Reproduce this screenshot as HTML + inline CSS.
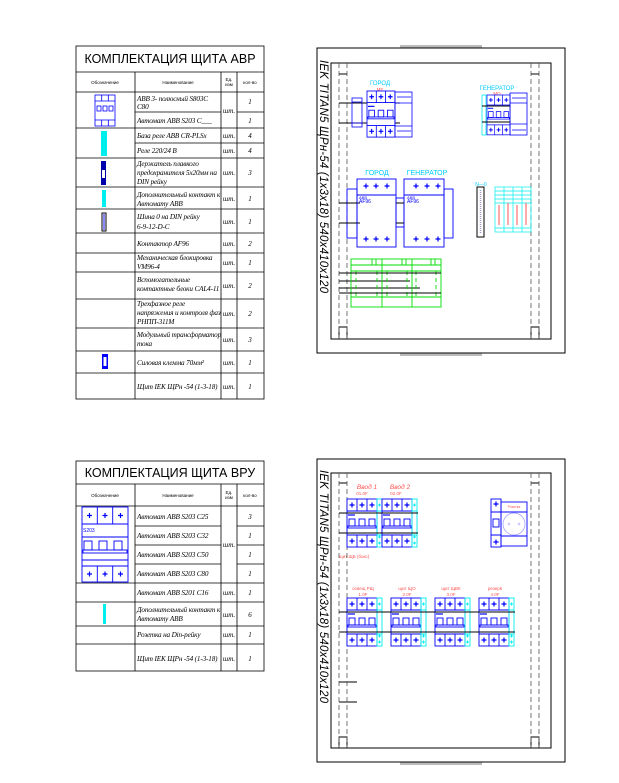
<!DOCTYPE html>
<html><head><meta charset="utf-8"><style>
html,body{margin:0;padding:0;background:#fff;}
svg{display:block;}
.ti{font-family:"Liberation Sans",sans-serif;font-size:12.5px;fill:#000;}
.hd{font-family:"Liberation Sans",sans-serif;font-size:4.5px;fill:#000;}
.it{font-family:"Liberation Serif",serif;font-style:italic;font-size:7.2px;fill:#000;letter-spacing:-0.15px;}
.u{font-family:"Liberation Serif",serif;font-style:italic;font-size:7px;fill:#000;}
.rd{font-family:"Liberation Sans",sans-serif;font-style:italic;font-size:6px;fill:#f55;}
.cy{font-family:"Liberation Sans",sans-serif;font-size:6px;fill:#0cf;}
.bl{font-family:"Liberation Sans",sans-serif;font-size:4px;fill:#00f;}
</style></head><body>
<svg width="619" height="783" viewBox="0 0 619 783" xmlns="http://www.w3.org/2000/svg">
<defs>
<g id="plus"><path d="M-2.5 0H2.5M0 -2.5V2.5" stroke="#00f" stroke-width="1.2"/></g>
<g id="brk" fill="none" stroke="#00f" stroke-width="0.9">
<rect x="0" y="0" width="30" height="48" fill="#fff"/>
<path d="M10 0V12M20 0V12M0 12H30M0 36H30M10 36V48M20 36V48"/>
<use href="#plus" x="5" y="6"/><use href="#plus" x="15" y="6"/><use href="#plus" x="25" y="6"/>
<use href="#plus" x="5" y="42"/><use href="#plus" x="15" y="42"/><use href="#plus" x="25" y="42"/>
<rect x="2" y="20" width="6" height="7"/><rect x="12" y="20" width="6" height="7"/><rect x="22" y="20" width="6" height="7"/>
<rect x="1" y="27" width="28" height="2"/>
<path d="M1 16H8" stroke-width="1.2"/>
</g>
<g id="aux" fill="none" stroke="#0ee" stroke-width="0.9">
<rect x="0" y="0" width="5" height="48"/>
<path d="M1 6H4M2.5 4.5V7.5M1 38H4M2.5 36.5V39.5M1 44H4M2.5 42.5V45.5M0 12H5M0 36H5"/>
</g>
</defs>

<!-- ===== TABLE 1 ===== -->
<g fill="none" stroke="#000" stroke-width="0.8">
<rect x="76" y="46" width="188" height="353"/>
<path d="M76 72H264M76 92H264"/>
<path d="M135 72V399M221 72V399M237 72V399"/>
<path d="M135 112H221M237 112H264"/>
<path d="M76 128H264M135 143H264M76 158H264M76 187H264M76 209H264M76 233H264M76 253H264M76 272H264M76 299H264M76 328H264M76 351H264M76 373H264"/>
</g>
<text class="ti" x="170" y="63" text-anchor="middle">КОМПЛЕКТАЦИЯ ЩИТА АВР</text>
<text class="hd" x="105" y="84" text-anchor="middle">Обозначение</text>
<text class="hd" x="178" y="84" text-anchor="middle">Наименование</text>
<text class="hd" x="229" y="81" text-anchor="middle">Ед.</text>
<text class="hd" x="229" y="86" text-anchor="middle">изм</text>
<text class="hd" x="250" y="84" text-anchor="middle">кол-во</text>
<g class="it">
<text x="137" y="101">ABB 3- полюсный S803C</text><text x="137" y="109">C80</text>
<text x="137" y="123">Автомат ABB S203 C___</text>
<text x="137" y="138">База реле ABB CR-PLSx</text>
<text x="137" y="153">Реле 220/24 В</text>
<text x="137" y="166">Держатель плавкого</text><text x="137" y="175">предохранителя 5х20мм на</text><text x="137" y="184">DIN рейку</text>
<text x="137" y="197">Дополнительный контакт к</text><text x="137" y="206">Автомату ABB</text>
<text x="137" y="219">Шина 0 на DIN рейку</text><text x="137" y="229">6-9-12-D-C</text>
<text x="137" y="246">Контактор AF96</text>
<text x="137" y="260">Механическая блокировка</text><text x="137" y="269">VM96-4</text>
<text x="137" y="282">Вспомогательные</text><text x="137" y="291">контактные блоки CAL4-11</text>
<text x="137" y="306">Трехфазное реле</text><text x="137" y="315">напряжения и контроля фаз</text><text x="137" y="324">РНПП-311М</text>
<text x="137" y="337">Модульный трансформатор</text><text x="137" y="346">тока</text>
<text x="137" y="365">Силовая клемма 70мм²</text>
<text x="137" y="389">Щит IEK ЩРн -54 (1-3-18)</text>
</g>
<g class="u" text-anchor="middle">
<text x="229" y="113">шт.</text><text x="229" y="138">шт.</text><text x="229" y="153">шт.</text><text x="229" y="175">шт.</text>
<text x="229" y="201">шт.</text><text x="229" y="224">шт.</text><text x="229" y="246">шт.</text><text x="229" y="265">шт.</text>
<text x="229" y="288">шт.</text><text x="229" y="316">шт.</text><text x="229" y="342">шт.</text><text x="229" y="365">шт.</text><text x="229" y="389">шт.</text>
<text x="250" y="104">1</text><text x="250" y="123">1</text><text x="250" y="138">4</text><text x="250" y="153">4</text><text x="250" y="175">3</text>
<text x="250" y="201">1</text><text x="250" y="224">1</text><text x="250" y="246">2</text><text x="250" y="265">1</text>
<text x="250" y="288">2</text><text x="250" y="316">2</text><text x="250" y="342">3</text><text x="250" y="365">1</text><text x="250" y="389">1</text>
</g>
<g fill="none" stroke="#00f" stroke-width="0.8">
<rect x="95" y="95" width="20" height="31"/><path d="M95 101H115M95 120H115M101.7 95V101M108.3 95V101M101.7 120V126M108.3 120V126"/>
<rect x="97" y="106" width="4" height="5"/><rect x="103" y="106" width="4" height="5"/><rect x="109" y="106" width="4" height="5"/>
</g>
<rect x="101" y="131" width="6" height="25" fill="#0ee"/>
<rect x="101" y="161" width="5" height="24" fill="#00a"/><rect x="102" y="170" width="3" height="8" fill="#fff"/>
<rect x="102" y="190" width="4" height="17" fill="#0ee"/>
<rect x="102" y="213" width="4" height="18" fill="#fff" stroke="#000" stroke-width="1"/><rect x="103" y="214" width="2" height="16" fill="#88f"/>
<rect x="102" y="354" width="6" height="15" fill="#00f"/><rect x="103.5" y="357" width="3" height="9" fill="#fff"/>

<!-- ===== TABLE 2 ===== -->
<g fill="none" stroke="#000" stroke-width="0.8">
<rect x="76" y="461" width="188" height="210"/>
<path d="M76 484H264M76 506H264"/>
<path d="M135 484V671M221 484V671M237 484V671"/>
<path d="M135 526H221M237 526H264M135 545H221M237 545H264M135 564H221M237 564H264"/>
<path d="M76 583H264M76 602H264M76 626H264M76 644H264"/>
</g>
<text class="ti" x="170" y="477" text-anchor="middle">КОМПЛЕКТАЦИЯ ЩИТА ВРУ</text>
<text class="hd" x="105" y="497" text-anchor="middle">Обозначение</text>
<text class="hd" x="178" y="497" text-anchor="middle">Наименование</text>
<text class="hd" x="229" y="494" text-anchor="middle">Ед.</text>
<text class="hd" x="229" y="499" text-anchor="middle">изм</text>
<text class="hd" x="250" y="497" text-anchor="middle">кол-во</text>
<g class="it">
<text x="137" y="519">Автомат ABB S203 C25</text>
<text x="137" y="538">Автомат ABB S203 C32</text>
<text x="137" y="557">Автомат ABB S203 C50</text>
<text x="137" y="576">Автомат ABB S203 C80</text>
<text x="137" y="595">Автомат ABB S201 C16</text>
<text x="137" y="612">Дополнительный контакт к</text><text x="137" y="621">Автомату ABB</text>
<text x="137" y="637">Розетка на Din-рейку</text>
<text x="137" y="661">Щит IEK ЩРн -54 (1-3-18)</text>
</g>
<g class="u" text-anchor="middle">
<text x="229" y="547">шт.</text><text x="229" y="595">шт.</text><text x="229" y="617">шт.</text><text x="229" y="637">шт.</text><text x="229" y="661">шт.</text>
<text x="250" y="519">3</text><text x="250" y="538">1</text><text x="250" y="557">1</text><text x="250" y="576">1</text>
<text x="250" y="595">1</text><text x="250" y="617">6</text><text x="250" y="637">1</text><text x="250" y="661">1</text>
</g>
<g fill="none" stroke="#00f" stroke-width="0.9">
<rect x="82" y="507" width="46" height="75"/>
<path d="M82 524H128M82 537H128M82 560H128M82 566H128M97.3 507V524M112.7 507V524M97.3 566V582M112.7 566V582"/>
<rect x="84" y="541" width="8" height="9"/><rect x="99" y="541" width="8" height="9"/><rect x="114" y="541" width="8" height="9"/>
<rect x="83" y="550" width="44" height="3"/>
<use href="#plus" x="89.5" y="515.5"/><use href="#plus" x="105" y="515.5"/><use href="#plus" x="120.5" y="515.5"/>
<use href="#plus" x="89.5" y="574"/><use href="#plus" x="105" y="574"/><use href="#plus" x="120.5" y="574"/>
</g>
<text class="bl" x="83" y="532" style="font-size:5px">S203</text>
<rect x="103" y="604" width="3" height="20" fill="#0ee"/>

<!-- ===== PANEL 1 ===== -->
<rect x="400" y="45" width="82" height="3" fill="#bbb"/>
<rect x="400" y="353" width="82" height="3" fill="#bbb"/>
<g fill="none" stroke="#000" stroke-width="1">
<rect x="317" y="48" width="248" height="305"/>
<rect x="331" y="63" width="220" height="276"/>
<path d="M339 74H347M531 74H539"/>
<rect x="339" y="327" width="8" height="12"/><rect x="531" y="327" width="8" height="12"/>
</g>
<g stroke="#555" stroke-width="0.8" stroke-dasharray="5,3">
<path d="M339 63V339M347 63V339M531 63V339M539 63V339"/>
</g>
<text transform="translate(320,60) rotate(90)" style="font-family:'Liberation Sans',sans-serif;font-style:italic;font-size:11.5px;" textLength="233">IEK TITAN5 ЩРн-54 (1x3x18) 540x410x120</text>
<g stroke="#000" stroke-width="0.9">
<path d="M339 103H400M339 123H400M339 203H360M339 223H360M339 273H360M339 293H360M339 281H410M339 288H420"/>
</g>
<text class="cy" x="380" y="85" text-anchor="middle">ГОРОД</text>
<text class="rd" x="380" y="91" text-anchor="middle" style="font-style:normal;font-size:4.5px">МЕ</text>
<g transform="translate(367,91) scale(0.93,0.96)"><use href="#brk"/></g>
<g fill="none" stroke="#00f" stroke-width="0.8">
<rect x="395" y="92" width="17" height="45"/><path d="M395 103H412M395 126H412M397 97H411M397 131H411"/>
<rect x="352" y="98" width="10" height="29"/><path d="M352 102H362M352 123H362"/>
</g>
<text class="cy" x="497" y="90" text-anchor="middle">ГЕНЕРАТОР</text>
<text class="rd" x="497" y="95" text-anchor="middle" style="font-style:normal;font-size:4.5px">МО</text>
<g transform="translate(487,95) scale(0.77,0.83)"><use href="#brk"/></g>
<g fill="none" stroke="#00f" stroke-width="0.8">
<rect x="510" y="93" width="17" height="42"/><path d="M510 103H527M510 124H527M512 98H526M512 130H526"/>
</g>
<rect x="482" y="95" width="4" height="40" fill="none" stroke="#0ee" stroke-width="0.8"/>
<g stroke="#000" stroke-width="0.9"><path d="M482 106H510M482 122H510"/></g>
<text class="cy" x="377" y="175" text-anchor="middle" style="font-size:7px">ГОРОД</text>
<text class="cy" x="427" y="175" text-anchor="middle" style="font-size:7px">ГЕНЕРАТОР</text>
<g fill="none" stroke="#00f" stroke-width="0.9">
<rect x="357" y="179" width="39" height="68"/><rect x="347" y="189" width="10" height="49"/>
<rect x="404" y="179" width="40" height="68"/><rect x="444" y="189" width="9" height="49"/>
<rect x="396" y="198" width="8" height="29"/>
<path d="M357 195H396M404 195H444"/>
</g>
<g>
<use href="#plus" x="366" y="186"/><use href="#plus" x="376" y="186"/><use href="#plus" x="387" y="186"/>
<use href="#plus" x="366" y="239"/><use href="#plus" x="376" y="239"/><use href="#plus" x="387" y="239"/>
<use href="#plus" x="416" y="186"/><use href="#plus" x="427" y="186"/><use href="#plus" x="438" y="186"/>
<use href="#plus" x="416" y="239"/><use href="#plus" x="427" y="239"/><use href="#plus" x="438" y="239"/>
</g>
<text class="bl" x="359" y="199">ABB</text><text class="bl" x="359" y="203" style="font-size:5px">AF96</text>
<text class="bl" x="407" y="199">ABB</text><text class="bl" x="407" y="203" style="font-size:5px">AF96</text>
<g stroke="#000" stroke-width="0.9"><path d="M339 203H357M339 223H357M396 203H404M396 223H404"/></g>
<text class="cy" x="481" y="186" text-anchor="middle" style="font-size:5px">N—0</text>
<rect x="477" y="187" width="7" height="50" fill="#fff" stroke="#000" stroke-width="1"/>
<path d="M480.5 190V234" stroke="#99c" stroke-width="1.5" stroke-dasharray="1,1"/>
<g fill="none" stroke="#0ee" stroke-width="0.7">
<rect x="495" y="187" width="36" height="45"/>
<path d="M495 191H531M495 195H531M495 199H531M495 203H531M504 187V232M513 187V232M522 187V232M495 228H531"/>
</g>
<g stroke="#f55" stroke-width="1"><path d="M499 205V225M508 203V225M517 205V225M526 203V225"/></g>
<g fill="none" stroke="#0d0" stroke-width="0.9">
<rect x="351" y="259" width="90" height="48"/>
<path d="M382 259V307M412 259V307M351 265H441M351 271H441M351 297H441"/>
<path d="M372 259V265M376 259V265M402 259V265M406 259V265M431 259V265M435 259V265"/>
<path d="M356 271V297M377 271V297M387 271V297M407 271V297M416 271V297M436 271V297" stroke-dasharray="4,3"/>
</g>
<g stroke="#000" stroke-width="0.9"><path d="M339 273H441M339 293H441"/></g>

<!-- ===== PANEL 2 ===== -->
<rect x="400" y="762" width="82" height="3" fill="#bbb"/>
<g fill="none" stroke="#000" stroke-width="1">
<rect x="317" y="459" width="248" height="303"/>
<rect x="331" y="473" width="220" height="275"/>
<path d="M339 483H347M531 483H539M339 682H357M339 702H357"/>
<rect x="339" y="737" width="8" height="11"/><rect x="531" y="737" width="8" height="11"/>
</g>
<g stroke="#555" stroke-width="0.8" stroke-dasharray="5,3">
<path d="M339 473V748M347 473V748M531 473V748M539 473V748"/>
</g>
<text transform="translate(320,470) rotate(90)" style="font-family:'Liberation Sans',sans-serif;font-style:italic;font-size:11.5px;" textLength="233">IEK TITAN5 ЩРн-54 (1x3x18) 540x410x120</text>
<text class="rd" x="367" y="489" text-anchor="middle" style="font-size:6.5px">Ввод 1</text>
<text class="rd" x="400" y="489" text-anchor="middle" style="font-size:6.5px">Ввод 2</text>
<text class="rd" x="362" y="495" text-anchor="middle" style="font-style:normal;font-size:4.5px">01.0F</text>
<text class="rd" x="396" y="495" text-anchor="middle" style="font-style:normal;font-size:4.5px">02.0F</text>
<g transform="translate(347,499)"><use href="#brk"/></g><g transform="translate(377,499)"><use href="#aux"/></g>
<g transform="translate(382,499)"><use href="#brk"/></g><g transform="translate(412,499)"><use href="#aux"/></g>
<g stroke="#000" stroke-width="0.9"><path d="M339 513H418M339 533H418"/></g>
<text class="rd" x="339" y="558" style="font-style:normal;font-size:4.5px">щит ЩБ (бокс)</text>
<g fill="none" stroke="#00f" stroke-width="0.9">
<rect x="491" y="499" width="10" height="48"/><path d="M491 512H501M491 535H501"/>
<rect x="493" y="519" width="6" height="8"/>
<rect x="501" y="502" width="26" height="44"/><path d="M501 512H527M501 536H527"/>
</g>
<use href="#plus" x="496" y="504"/><use href="#plus" x="496" y="542"/>
<circle cx="514" cy="524" r="11" fill="none" stroke="#99f" stroke-width="0.7"/>
<circle cx="509" cy="524" r="1" fill="none" stroke="#99f" stroke-width="0.5"/><circle cx="519" cy="524" r="1" fill="none" stroke="#99f" stroke-width="0.5"/>
<text class="rd" x="514" y="508" text-anchor="middle" style="font-style:normal;font-size:3.5px">Розетка</text>
<text class="rd" x="363" y="590" text-anchor="middle" style="font-style:normal;font-size:4.5px">освещ РЩ</text>
<text class="rd" x="407" y="590" text-anchor="middle" style="font-style:normal;font-size:4.5px">щит ЩО</text>
<text class="rd" x="451" y="590" text-anchor="middle" style="font-style:normal;font-size:4.5px">щит ЩВК</text>
<text class="rd" x="495" y="590" text-anchor="middle" style="font-style:normal;font-size:4.5px">резерв</text>
<text class="rd" x="363" y="596" text-anchor="middle" style="font-style:normal;font-size:4.5px">1.0F</text>
<text class="rd" x="407" y="596" text-anchor="middle" style="font-style:normal;font-size:4.5px">2.0F</text>
<text class="rd" x="451" y="596" text-anchor="middle" style="font-style:normal;font-size:4.5px">3.0F</text>
<text class="rd" x="495" y="596" text-anchor="middle" style="font-style:normal;font-size:4.5px">4.0F</text>
<g transform="translate(347,598)"><use href="#brk"/></g><g transform="translate(377,598)"><use href="#aux"/></g>
<g transform="translate(391,598)"><use href="#brk"/></g><g transform="translate(421,598)"><use href="#aux"/></g>
<g transform="translate(435,598)"><use href="#brk"/></g><g transform="translate(465,598)"><use href="#aux"/></g>
<g transform="translate(479,598)"><use href="#brk"/></g><g transform="translate(509,598)"><use href="#aux"/></g>
<g stroke="#000" stroke-width="0.9"><path d="M339 612H515M339 632H515"/></g>
</svg>
</body></html>
